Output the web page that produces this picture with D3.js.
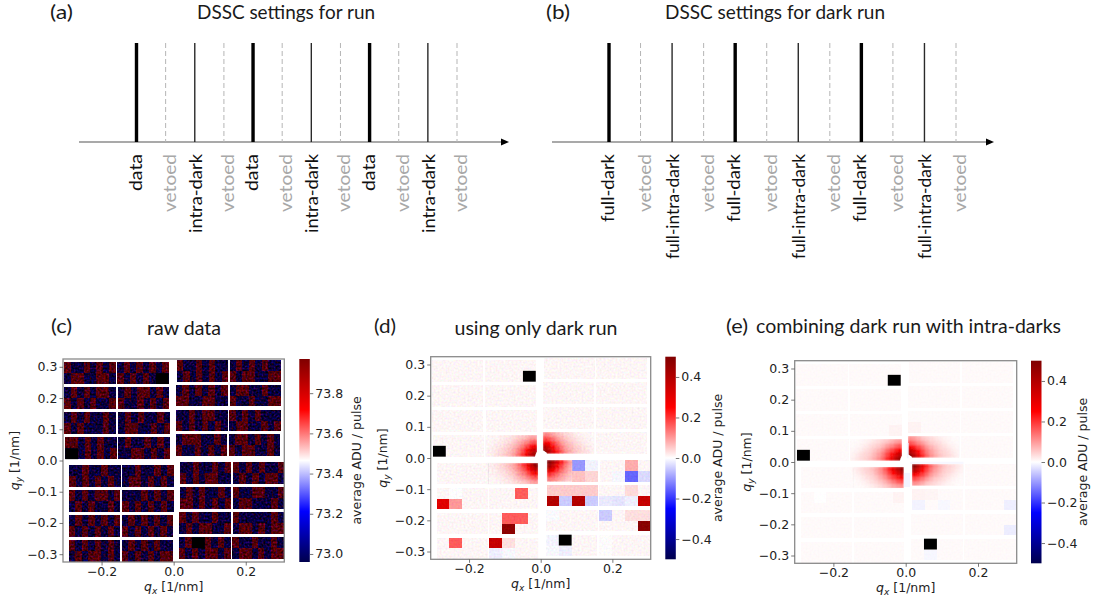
<!DOCTYPE html>
<html>
<head>
<meta charset="utf-8">
<script src="https://cdn.jsdelivr.net/npm/d3@7"></script>
<style>
  html, body { margin: 0; padding: 0; background: #fff; }
  svg { display: block; }
  .note { font-family: Lato, "Open Sans", sans-serif; fill: #1a1a1a; }
  .tick text, .axlabel { font-family: "DejaVu Sans", sans-serif; fill: #222; }
</style>
</head>
<body>
<svg width="1094" height="601"></svg>
<script>
// pulse pattern of the two DSSC settings
var runPulses = ['data', 'vetoed', 'intra-dark', 'vetoed', 'data', 'vetoed', 'intra-dark', 'vetoed', 'data', 'vetoed', 'intra-dark', 'vetoed'];
var darkPulses = ['full-dark', 'vetoed', 'full-intra-dark', 'vetoed', 'full-dark', 'vetoed', 'full-intra-dark', 'vetoed', 'full-dark', 'vetoed', 'full-intra-dark', 'vetoed'];

// detector sensors: upper left corner in q, 4 rows of 2 in each of the 4 quadrants
var moduleQx = [
  -0.3035, -0.1568, -0.3035, -0.155, -0.3035, -0.1531, -0.3007, -0.1531,
  0.0083, 0.155, 0.0065, 0.155, 0.0065, 0.154, 0.0055, 0.1531,
  -0.2897, -0.143, -0.2906, -0.143, -0.2906, -0.1439, -0.2906, -0.1439,
  0.0166, 0.1642, 0.0166, 0.1633, 0.0157, 0.1633, 0.0148, 0.1624
];
var moduleQy = [
  0.3144, 0.3144, 0.2342, 0.2342, 0.154, 0.154, 0.0738, 0.0738,
  0.3219, 0.3219, 0.2428, 0.2428, 0.1626, 0.1626, 0.0834, 0.0834,
  -0.015, -0.015, -0.0952, -0.0952, -0.1754, -0.1754, -0.2556, -0.2556,
  -0.0064, -0.0064, -0.0856, -0.0856, -0.1658, -0.1658, -0.246, -0.246
];
var moduleWidthQ = 0.143;
var moduleHeightQ = 0.0695;

// raw panel: two rows of 8 tiles per sensor, H high / L low level
var rawHigh = 73.97;
var rawLow = 72.96;
var rawTiles = [
  'HLLHLHLH LHHLLHHL', 'LHLHLHLH HLHLHLLL', 'LHLHLHHL HLHLHLLH', 'LHLHHLHL HLLHLHLH',
  'LHLHLLHL HLHLLLHL', 'LHLHLLHL LHHLLHLH', 'HHLHLHLL LLLHLHLH', 'LHLLHLHL LLHHLHLH',
  'HLLHLHLL LHLHLHLH', 'LHLHLHLL HLHHLLHH', 'LHLHLHLH HHLLHHLL', 'LHHLLHLL HLLHLLHH',
  'LLHLHHLL HLHLHLHL', 'HLHLHLLL LHHLLHLH', 'LHHHLLHL HLLHLHLH', 'LHHLHLHL HLHHLLHL',
  'LLHLLHLL HLHLHLHL', 'LLHLLHLH LHHLHLHL', 'HLHLHHLH LHLHLLHL', 'LLLHLHLH HLHLHLHL',
  'LHLHLHLH HLHLHLHL', 'LHLHLHLH HLHLHLHL', 'HLHLHLHL LHLHHLHL', 'LHLHLHLL HLHLHLHH',
  'LLHLLHLH HLHLHHLL', 'HLHLHLLH LHLHLHHL', 'LHLHLLHL HHLHLHLH', 'HLLHHLLH LHHLLLHL',
  'HLHLLHLL LHLHHLLH', 'HLLLLLHL LHHLHLHH', 'LHLLHLHL HLHLHHLH', 'HLLHLLHL LHHLHLHH'
];

// corrected panels: 2 rows of 4 tiles per sensor, [sensor, row, col, value]
var darkBase = 0.008;
var darkTiles = [
  [18, 0, 1, null], [18, 1, 0, 0.31], [18, 1, 1, 0.1], [19, 0, 2, 0.16],
  [21, 0, 1, 0.16], [21, 0, 2, 0.16], [21, 1, 1, 0.47], [22, 0, 1, 0.16],
  [23, 0, 0, 0.36], [23, 0, 1, 0.03], [23, 1, 0, -0.015], [23, 1, 1, -0.006],
  [24, 0, 2, -0.1], [24, 0, 3, -0.012], [24, 1, 2, 0.06], [24, 1, 3, 0.04],
  [25, 0, 2, 0.08], [25, 1, 1, -0.008], [25, 1, 2, -0.15], [25, 1, 3, -0.035],
  [26, 0, 0, 0.05], [26, 0, 1, 0.05], [26, 0, 2, 0.05], [26, 0, 3, 0.05],
  [26, 1, 0, 0.4], [26, 1, 1, -0.05], [26, 1, 2, 0.4], [26, 1, 3, -0.05],
  [27, 0, 2, 0.035], [27, 1, 0, -0.02], [27, 1, 1, -0.025], [27, 1, 2, -0.015], [27, 1, 3, 0.36],
  [28, 0, 0, -0.004], [29, 0, 0, -0.05], [29, 0, 2, 0.03], [29, 0, 3, 0.03], [29, 1, 3, 0.48],
  [30, 0, 0, -0.01], [30, 1, 0, -0.006], [30, 1, 1, -0.015], [31, 0, 0, 0.002], [31, 1, 0, 0.002]
];
var intraBase = 0.005;
var intraTiles = [
  [18, 0, 1, null], [26, 1, 0, -0.012], [26, 1, 2, -0.007], [27, 1, 3, -0.016],
  [29, 1, 3, -0.018], [30, 1, 1, -0.008], [5, 1, 3, 0.012], [12, 1, 0, 0.012],
  [26, 0, 0, 0.012], [26, 0, 1, 0.01], [19, 0, 3, 0.012]
];

// broken tiles, drawn black in every panel: [sensor, row, col]
var deadTiles = [[1, 1, 3], [6, 1, 0], [30, 0, 1]];

// central scattering, row 0 and col 0 are next to the beam
var darkBlobTL = [
  [0.46, 0.38, 0.29, 0.20, 0.14, 0.10, 0.07, 0.05, 0.04, 0.03, 0.02, 0.014],
  [0.38, 0.32, 0.25, 0.17, 0.12, 0.085, 0.06, 0.045, 0.035, 0.025, 0.016, 0.012],
  [0.27, 0.23, 0.18, 0.13, 0.09, 0.07, 0.05, 0.035, 0.025, 0.02, 0.014, 0.01],
  [0.17, 0.15, 0.12, 0.09, 0.07, 0.05, 0.035, 0.025, 0.02, 0.015, 0.01, 0.008],
  [0.09, 0.09, 0.07, 0.055, 0.045, 0.035, 0.025, 0.02, 0.015, 0.01, 0.008, 0.008]
];
var darkBlobTR = [
  [0.48, 0.41, 0.31, 0.22, 0.16, 0.11, 0.08, 0.06, 0.045, 0.035, 0.025, 0.016],
  [0.41, 0.34, 0.26, 0.18, 0.13, 0.09, 0.07, 0.05, 0.04, 0.03, 0.02, 0.014],
  [0.29, 0.25, 0.20, 0.14, 0.10, 0.075, 0.055, 0.04, 0.03, 0.02, 0.014, 0.01],
  [0.19, 0.17, 0.14, 0.10, 0.075, 0.055, 0.04, 0.03, 0.02, 0.015, 0.01, 0.008],
  [0.12, 0.11, 0.09, 0.07, 0.05, 0.04, 0.03, 0.02, 0.015, 0.01, 0.008, 0.008]
];
var darkBlobBL = [
  [0.48, 0.39, 0.29, 0.20, 0.14, 0.10, 0.075, 0.055, 0.04, 0.03, 0.02, 0.014],
  [0.39, 0.32, 0.24, 0.17, 0.12, 0.09, 0.065, 0.045, 0.035, 0.025, 0.016, 0.012],
  [0.27, 0.23, 0.18, 0.13, 0.10, 0.07, 0.05, 0.035, 0.025, 0.02, 0.014, 0.01],
  [0.17, 0.15, 0.12, 0.09, 0.07, 0.05, 0.035, 0.025, 0.02, 0.015, 0.01, 0.008],
  [0.10, 0.09, 0.07, 0.055, 0.045, 0.035, 0.025, 0.02, 0.015, 0.01, 0.008, 0.008]
];
var darkBlobBR = [
  [0.50, 0.43, 0.33, 0.23, 0.15, 0.10],
  [0.43, 0.35, 0.26, 0.18, 0.12, 0.08],
  [0.31, 0.26, 0.20, 0.14, 0.10, 0.07],
  [0.20, 0.17, 0.14, 0.10, 0.08, 0.06],
  [0.13, 0.12, 0.10, 0.08, 0.06, 0.05]
];
var intraBlobTL = [
  [0.46, 0.38, 0.29, 0.21, 0.15, 0.11, 0.08, 0.06, 0.045, 0.035, 0.025, 0.015],
  [0.38, 0.31, 0.24, 0.18, 0.13, 0.095, 0.07, 0.05, 0.04, 0.03, 0.02, 0.012],
  [0.26, 0.22, 0.18, 0.14, 0.10, 0.075, 0.055, 0.04, 0.03, 0.02, 0.012, 0.008],
  [0.17, 0.15, 0.12, 0.095, 0.07, 0.05, 0.04, 0.03, 0.02, 0.012, 0.008, 0.005],
  [0.10, 0.09, 0.075, 0.055, 0.045, 0.035, 0.025, 0.018, 0.012, 0.008, 0.005, 0.005]
];
var intraBlobTR = [
  [0.49, 0.40, 0.30, 0.21, 0.15, 0.11, 0.08, 0.06, 0.045, 0.035, 0.025, 0.015],
  [0.40, 0.33, 0.25, 0.18, 0.13, 0.095, 0.07, 0.05, 0.04, 0.03, 0.02, 0.012],
  [0.27, 0.23, 0.18, 0.14, 0.10, 0.075, 0.055, 0.04, 0.03, 0.02, 0.012, 0.008],
  [0.17, 0.15, 0.12, 0.095, 0.07, 0.05, 0.04, 0.03, 0.02, 0.012, 0.008, 0.005],
  [0.11, 0.10, 0.08, 0.055, 0.045, 0.035, 0.025, 0.018, 0.012, 0.008, 0.005, 0.005]
];
var intraBlobBL = [
  [0.47, 0.39, 0.30, 0.22, 0.16, 0.11, 0.08, 0.06, 0.045, 0.035, 0.025, 0.015],
  [0.39, 0.32, 0.25, 0.19, 0.14, 0.10, 0.075, 0.05, 0.04, 0.03, 0.02, 0.012],
  [0.27, 0.23, 0.19, 0.15, 0.11, 0.08, 0.055, 0.04, 0.03, 0.02, 0.012, 0.008],
  [0.18, 0.16, 0.13, 0.10, 0.075, 0.055, 0.04, 0.03, 0.02, 0.012, 0.008, 0.005],
  [0.11, 0.10, 0.085, 0.065, 0.05, 0.035, 0.025, 0.018, 0.012, 0.008, 0.005, 0.005]
];
var intraBlobBR = [
  [0.49, 0.40, 0.30, 0.21, 0.15, 0.11, 0.08, 0.06, 0.045, 0.035, 0.025, 0.015],
  [0.40, 0.33, 0.25, 0.18, 0.13, 0.095, 0.07, 0.05, 0.04, 0.03, 0.02, 0.012],
  [0.27, 0.23, 0.19, 0.14, 0.10, 0.075, 0.055, 0.04, 0.03, 0.02, 0.012, 0.008],
  [0.18, 0.16, 0.13, 0.095, 0.07, 0.05, 0.04, 0.03, 0.02, 0.012, 0.008, 0.005],
  [0.11, 0.10, 0.08, 0.055, 0.045, 0.035, 0.025, 0.018, 0.012, 0.008, 0.005, 0.005]
];

// faint lavender around the central cross of panel (e): [qx0, qx1, qyTop, qyBottom, value]
var intraHalo = [
  [0.003, 0.008, 0.061, 0.012, -0.012],
  [-0.005, 0.012, -0.035, -0.08, -0.012],
  [0.012, 0.16, 0.001, -0.006, -0.008]
];

var qTicksX = [-0.2, 0, 0.2];
var qTicksY = [-0.3, -0.2, -0.1, 0, 0.1, 0.2, 0.3];
var rawBarTicks = [73.0, 73.2, 73.4, 73.6, 73.8];
var diffBarTicks = [-0.4, -0.2, 0, 0.2, 0.4];

var blobCellQx = 0.012;
var blobCellQy = 0.014;

var svg = d3.select('svg');
var defs = svg.append('defs');

// matplotlib seismic
var seismic = d3.scaleLinear()
  .domain([0, 0.25, 0.5, 0.75, 1])
  .range(['rgb(0,0,77)', 'rgb(0,0,255)', 'rgb(255,255,255)', 'rgb(255,0,0)', 'rgb(128,0,0)'])
  .clamp(true);

// pixel speckle of the detector image, a surface texture only: no value comes from it
var makeSpeckle = function(id, amount, shift, seed, blur, greenRow, redGain, blueGain){
  var f = defs.append('filter').attr('id', id)
    .attr('x', 0).attr('y', 0).attr('width', '100%').attr('height', '100%')
    .attr('color-interpolation-filters', 'sRGB');
  f.append('feTurbulence').attr('type', 'fractalNoise').attr('baseFrequency', 0.5)
    .attr('numOctaves', 1).attr('seed', seed).attr('result', 'n');
  f.append('feColorMatrix').attr('in', 'n').attr('type', 'matrix')
    .attr('values', '1 0 0 0 0 ' + greenRow + ' 0 0 1 0 0 0 0 0 0 1').attr('result', 'o');
  f.append('feComposite').attr('in', 'SourceGraphic').attr('in2', 'o').attr('operator', 'arithmetic')
    .attr('k1', 0).attr('k2', 1).attr('k3', amount).attr('k4', shift).attr('result', 'm');
  f.append('feComposite').attr('in', 'm').attr('in2', 'SourceGraphic').attr('operator', 'in').attr('result', 'c');
  f.append('feColorMatrix').attr('in', 'c').attr('type', 'matrix')
    .attr('values', redGain + ' 0 0 0 0 0 1 0 0 0 0 0 ' + blueGain + ' 0 0 0 0 0 1 0').attr('result', 'g');
  f.append('feGaussianBlur').attr('in', 'g').attr('stdDeviation', blur);
};
makeSpeckle('speckleRaw', 1.25, -0.6, 4, 0.6, '0 0 0 0 0.42', 0.62, 0.72);
makeSpeckle('speckleDark', 0.16, -0.085, 7, 0.35, '0 1 0 0 0', 1, 1);
makeSpeckle('speckleIntra', 0.04, -0.021, 9, 0.35, '0 1 0 0 0', 1, 1);
defs.append('filter').attr('id', 'blobBlur')
  .attr('x', '-10%').attr('y', '-10%').attr('width', '120%').attr('height', '120%')
  .append('feGaussianBlur').attr('stdDeviation', 0.8);

var note = function(text, x, y, size, anchor, width){
  var t = svg.append('text').attr('class', 'note')
    .attr('x', x).attr('y', y)
    .attr('font-size', size)
    .attr('text-anchor', anchor || 'start')
    .text(text);
  if (width) t.attr('textLength', width).attr('lengthAdjust', 'spacingAndGlyphs');
  return t;
};

// ---- top row: pulse diagrams
var pulseStyle = {
  'data': { w: 3.4, c: '#000', dash: null, text: '#111', dx: -2, len: 37 },
  'full-dark': { w: 3.4, c: '#000', dash: null, text: '#111', dx: -2, len: 68 },
  'intra-dark': { w: 1.4, c: '#2a2a2a', dash: null, text: '#111', dx: 0, len: 79 },
  'full-intra-dark': { w: 1.4, c: '#2a2a2a', dash: null, text: '#111', dx: 0, len: 105 },
  'vetoed': { w: 1, c: '#b5b5b5', dash: '5,3', text: '#a8a8a8', dx: 3, len: 58 }
};

var drawPulses = function(pulses, firstX, lastX, axisStart, axisEnd){
  var x = d3.scaleLinear().domain([0, pulses.length - 1]).range([firstX, lastX]);
  var g = svg.append('g');
  g.append('line').attr('x1', axisStart).attr('x2', axisEnd)
    .attr('y1', 142).attr('y2', 142)
    .attr('stroke', '#8c8c8c').attr('stroke-width', 1.4);
  g.append('path')
    .attr('d', 'M' + axisEnd + ',138.5L' + (axisEnd + 8) + ',142L' + axisEnd + ',145.5Z')
    .attr('fill', '#000');
  g.selectAll('.pulse').data(pulses).enter()
    .append('line')
      .attr('class', 'pulse')
      .attr('x1', function(d, i){ return x(i); })
      .attr('x2', function(d, i){ return x(i); })
      .attr('y1', 43).attr('y2', 142)
      .attr('stroke', function(d){ return pulseStyle[d].c; })
      .attr('stroke-width', function(d){ return pulseStyle[d].w; })
      .attr('stroke-dasharray', function(d){ return pulseStyle[d].dash; });
  g.selectAll('.pulselabel').data(pulses).enter()
    .append('text')
      .attr('class', 'pulselabel')
      .attr('font-family', 'Lato, "Open Sans", sans-serif')
      .attr('font-size', 18)
      .attr('fill', function(d){ return pulseStyle[d].text; })
      .attr('text-anchor', 'end')
      .attr('dominant-baseline', 'central')
      .attr('textLength', function(d){ return pulseStyle[d].len; })
      .attr('lengthAdjust', 'spacingAndGlyphs')
      .attr('transform', function(d, i){
        return 'translate(' + (x(i) + pulseStyle[d].dx) + ',154) rotate(-90)';
      })
      .text(function(d){ return d; });
};

drawPulses(runPulses, 136.5, 457, 79, 501);
drawPulses(darkPulses, 609, 956, 552, 986);

note('(a)', 50, 18.5, 19, 'start', 23);
note('DSSC settings for run', 286, 18.5, 19, 'middle', 178);
note('(b)', 546, 18.5, 19, 'start', 24);
note('DSSC settings for dark run', 775, 18.5, 19, 'middle', 220);
note('(c)', 51, 333, 19, 'start', 21);
note('raw data', 184, 335, 19, 'middle', 74);
note('(d)', 374, 333, 19, 'start', 22);
note('using only dark run', 536, 335, 19, 'middle', 163);
note('(e)', 726, 333, 19, 'start', 22);
note('combining dark run with intra-darks', 908.5, 333, 19, 'middle', 305);

// ---- bottom row: detector images
var tileRects = function(tiles, columns, color){
  // tiles holds {m, row, col, value}
  return function(g, x, y){
    g.selectAll('.tile').data(tiles).enter()
      .append('rect')
        .attr('class', 'tile')
        .attr('x', function(d){ return x(moduleQx[d.m] + d.col * moduleWidthQ / columns); })
        .attr('y', function(d){ return y(moduleQy[d.m] - d.row * moduleHeightQ / 2); })
        .attr('width', function(d){ return x(moduleQx[d.m] + (d.col + 1) * moduleWidthQ / columns) - x(moduleQx[d.m] + d.col * moduleWidthQ / columns); })
        .attr('height', function(d){ return y(moduleQy[d.m] - (d.row + 1) * moduleHeightQ / 2) - y(moduleQy[d.m] - d.row * moduleHeightQ / 2); })
        .attr('fill', function(d){ return d.value === null ? '#fff' : color(d.value); })
        .attr('shape-rendering', 'crispEdges');
  };
};

var expandRaw = function(){
  var out = [];
  rawTiles.forEach(function(s, m){
    s.split(' ').forEach(function(rowText, row){
      rowText.split('').forEach(function(c, col){
        out.push({ m: m, row: row, col: col, value: c === 'H' ? rawHigh : rawLow });
      });
    });
  });
  return out;
};

var expandDiff = function(base, overrides){
  var out = [];
  moduleQx.forEach(function(q, m){
    d3.range(2).forEach(function(row){
      d3.range(4).forEach(function(col){
        var hit = overrides.filter(function(o){ return o[0] === m && o[1] === row && o[2] === col; })[0];
        out.push({ m: m, row: row, col: col, value: hit ? hit[3] : base });
      });
    });
  });
  return out;
};

// sx, sy say on which side of the beam the blob grows; m is the sensor that holds it
var drawBlob = function(g, b, panelId, x, y, color){
  var m = b.m, sx = b.sx, sy = b.sy;
  var qx0 = sx < 0 ? (b.edge !== undefined ? b.edge : moduleQx[m] + moduleWidthQ) : moduleQx[m];
  var qy0 = sy > 0 ? moduleQy[m] - moduleHeightQ : moduleQy[m];
  var cells = [];
  b.matrix.forEach(function(rowVals, r){
    rowVals.forEach(function(v, c){ cells.push({ r: r, c: c, v: v }); });
  });
  var clipId = 'blobclip' + panelId + m;
  var left = sx < 0 ? qx0 - b.matrix[0].length * blobCellQx : qx0;
  var right = sx < 0 ? qx0 : qx0 + b.matrix[0].length * blobCellQx;
  defs.append('clipPath').attr('id', clipId)
    .append('rect')
      .attr('x', x(left)).attr('y', y(moduleQy[m]))
      .attr('width', x(right) - x(left))
      .attr('height', y(moduleQy[m] - moduleHeightQ) - y(moduleQy[m]));
  g.append('g').attr('clip-path', 'url(#' + clipId + ')')
    .append('g').attr('filter', 'url(#blobBlur)')
    .selectAll('rect').data(cells).enter()
    .append('rect')
      .attr('x', function(d){ return Math.min(x(qx0 + sx * d.c * blobCellQx), x(qx0 + sx * (d.c + 1) * blobCellQx)); })
      .attr('y', function(d){ return Math.min(y(qy0 + sy * d.r * blobCellQy), y(qy0 + sy * (d.r + 1) * blobCellQy)); })
      .attr('width', function(d){ return Math.abs(x(qx0 + blobCellQx) - x(qx0)) + 0.3; })
      .attr('height', function(d){ return Math.abs(y(qy0 + blobCellQy) - y(qy0)) + 0.3; })
      .attr('fill', function(d){ return color(d.v); });
};

var drawPanel = function(p){
  var x = d3.scaleLinear().domain([-0.307, 0.307]).range([p.left, p.right]);
  var y = d3.scaleLinear().domain([-0.325, 0.325]).range([p.bottom, p.top]);
  var color = d3.scaleLinear()
    .domain(p.vrange)
    .range([0, 1]);
  var cval = function(v){ return seismic(color(v)); };

  var clipId = 'clip' + p.id;
  defs.append('clipPath').attr('id', clipId)
    .append('rect').attr('x', p.left).attr('y', p.top)
    .attr('width', p.right - p.left).attr('height', p.bottom - p.top);

  var outer = svg.append('g').attr('clip-path', 'url(#' + clipId + ')');
  var image = outer.append('g').attr('filter', 'url(#' + p.filter + ')');
  tileRects(p.tiles, p.columns, cval)(image, x, y);
  p.blobs.forEach(function(b){
    drawBlob(image, b, p.id, x, y, cval);
  });

  if (p.blobs.length) {
    // inner edge of the lower left sensors is masked, and the beam stop hole
    outer.append('rect').attr('x', x(p.maskEdge)).attr('y', y(-0.015))
      .attr('width', x(0.004) - x(p.maskEdge)).attr('height', y(-0.325) - y(-0.015))
      .attr('fill', '#fff');
    outer.append('circle').attr('cx', x(0.002)).attr('cy', y(0.004))
      .attr('r', Math.abs(x(0.018) - x(0))).attr('fill', '#fff');
  }

  (p.halo || []).forEach(function(h){
    outer.append('rect')
      .attr('x', x(h[0])).attr('y', y(h[2]))
      .attr('width', x(h[1]) - x(h[0])).attr('height', y(h[3]) - y(h[2]))
      .attr('fill', cval(h[4]));
  });

  // dead tiles are 1/4 of a sensor wide in every panel
  var dead = deadTiles.map(function(t){ return { m: t[0], row: t[1], col: t[2] }; });
  outer.selectAll('.dead').data(dead).enter()
    .append('rect')
      .attr('class', 'dead')
      .attr('x', function(d){ return x(moduleQx[d.m] + d.col * moduleWidthQ / 4); })
      .attr('y', function(d){ return y(moduleQy[d.m] - d.row * moduleHeightQ / 2); })
      .attr('width', x(moduleWidthQ / 4) - x(0))
      .attr('height', y(0) - y(moduleHeightQ / 2))
      .attr('fill', '#000');

  // frame and axes
  svg.append('rect').attr('x', p.left).attr('y', p.top)
    .attr('width', p.right - p.left).attr('height', p.bottom - p.top)
    .attr('fill', 'none').attr('stroke', '#8a8a8a').attr('stroke-width', 1.3);

  var ax = svg.append('g').attr('transform', 'translate(0,' + p.bottom + ')')
    .call(d3.axisBottom(x).tickValues(qTicksX).tickFormat(d3.format('.1f')).tickSize(3.5).tickPadding(1.5));
  var ay = svg.append('g').attr('transform', 'translate(' + p.left + ',0)')
    .call(d3.axisLeft(y).tickValues(qTicksY).tickFormat(d3.format('.1f')).tickSize(3.5).tickPadding(2));
  [ax, ay].forEach(function(a){
    a.select('.domain').remove();
    a.selectAll('.tick line').attr('stroke', '#555').attr('stroke-width', 0.8);
    a.selectAll('.tick text').attr('font-size', 12.5).attr('fill', '#222');
  });

  var xlab = svg.append('text').attr('class', 'axlabel')
    .attr('x', (p.left + p.right) / 2).attr('y', p.bottom + 29)
    .attr('text-anchor', 'middle').attr('font-size', 12.5);
  xlab.append('tspan').attr('font-style', 'italic').text('q');
  xlab.append('tspan').attr('font-style', 'italic').attr('font-size', 9).attr('dy', 3).text('x');
  xlab.append('tspan').attr('dy', -3).text(' [1/nm]');

  var ylab = svg.append('text').attr('class', 'axlabel')
    .attr('transform', 'translate(' + (p.left - 44) + ',' + ((p.top + p.bottom) / 2 + 0) + ') rotate(-90)')
    .attr('text-anchor', 'middle').attr('font-size', 12.5);
  ylab.append('tspan').attr('font-style', 'italic').text('q');
  ylab.append('tspan').attr('font-style', 'italic').attr('font-size', 9).attr('dy', 3).text('y');
  ylab.append('tspan').attr('dy', -3).text(' [1/nm]');

  // colorbar
  var bar = d3.scaleLinear().domain(p.vrange).range([p.bottom, p.top]);
  var gradId = 'grad' + p.id;
  var grad = defs.append('linearGradient').attr('id', gradId)
    .attr('x1', 0).attr('x2', 0).attr('y1', 1).attr('y2', 0);
  d3.range(0, 1.001, 0.25).forEach(function(t){
    grad.append('stop').attr('offset', t).attr('stop-color', seismic(t));
  });
  svg.append('rect').attr('x', p.barLeft).attr('y', p.top)
    .attr('width', p.barWidth).attr('height', p.bottom - p.top)
    .attr('fill', 'url(#' + gradId + ')');
  var ac = svg.append('g').attr('transform', 'translate(' + (p.barLeft + p.barWidth) + ',0)')
    .call(d3.axisRight(bar).tickValues(p.barTicks).tickFormat(d3.format('.1f')).tickSize(3.5).tickPadding(2));
  ac.select('.domain').remove();
  ac.selectAll('.tick line').attr('stroke', '#555').attr('stroke-width', 0.8);
  ac.selectAll('.tick text').attr('font-size', 12.5).attr('fill', '#222');

  svg.append('text').attr('class', 'axlabel')
    .attr('transform', 'translate(' + (p.barLeft + p.labelDx) + ',' + ((p.top + p.bottom) / 2 + 0) + ') rotate(-90)')
    .attr('text-anchor', 'middle').attr('dominant-baseline', 'central').attr('font-size', 12.5)
    .text('average ADU / pulse');
};

drawPanel({
  id: 'c', left: 63, right: 284.3, top: 359, bottom: 562,
  vrange: [72.96, 73.97], barLeft: 299.3, barWidth: 10.5, labelDx: 57, barTicks: rawBarTicks,
  tiles: expandRaw(), columns: 8, filter: 'speckleRaw', blobs: []
});
drawPanel({
  id: 'd', left: 430.7, right: 650.7, top: 356.7, bottom: 559.3, maskEdge: -0.007,
  vrange: [-0.5, 0.5], barLeft: 665.3, barWidth: 10.5, labelDx: 52, barTicks: diffBarTicks,
  tiles: expandDiff(darkBase, darkTiles), columns: 4, filter: 'speckleDark',
  blobs: [
    { matrix: darkBlobTL, m: 7, sx: -1, sy: 1 },
    { matrix: darkBlobTR, m: 14, sx: 1, sy: 1 },
    { matrix: darkBlobBL, m: 17, sx: -1, sy: -1, edge: -0.007 },
    { matrix: darkBlobBR, m: 24, sx: 1, sy: -1 }
  ]
});
drawPanel({
  id: 'e', left: 794.7, right: 1016.7, top: 360.7, bottom: 563.3, maskEdge: -0.005,
  vrange: [-0.5, 0.5], barLeft: 1031, barWidth: 10.5, labelDx: 51, barTicks: diffBarTicks,
  tiles: expandDiff(intraBase, intraTiles), columns: 4, filter: 'speckleIntra', halo: intraHalo,
  blobs: [
    { matrix: intraBlobTL, m: 7, sx: -1, sy: 1 },
    { matrix: intraBlobTR, m: 14, sx: 1, sy: 1 },
    { matrix: intraBlobBL, m: 17, sx: -1, sy: -1, edge: -0.005 },
    { matrix: intraBlobBR, m: 24, sx: 1, sy: -1 }
  ]
});
</script>
</body>
</html>
